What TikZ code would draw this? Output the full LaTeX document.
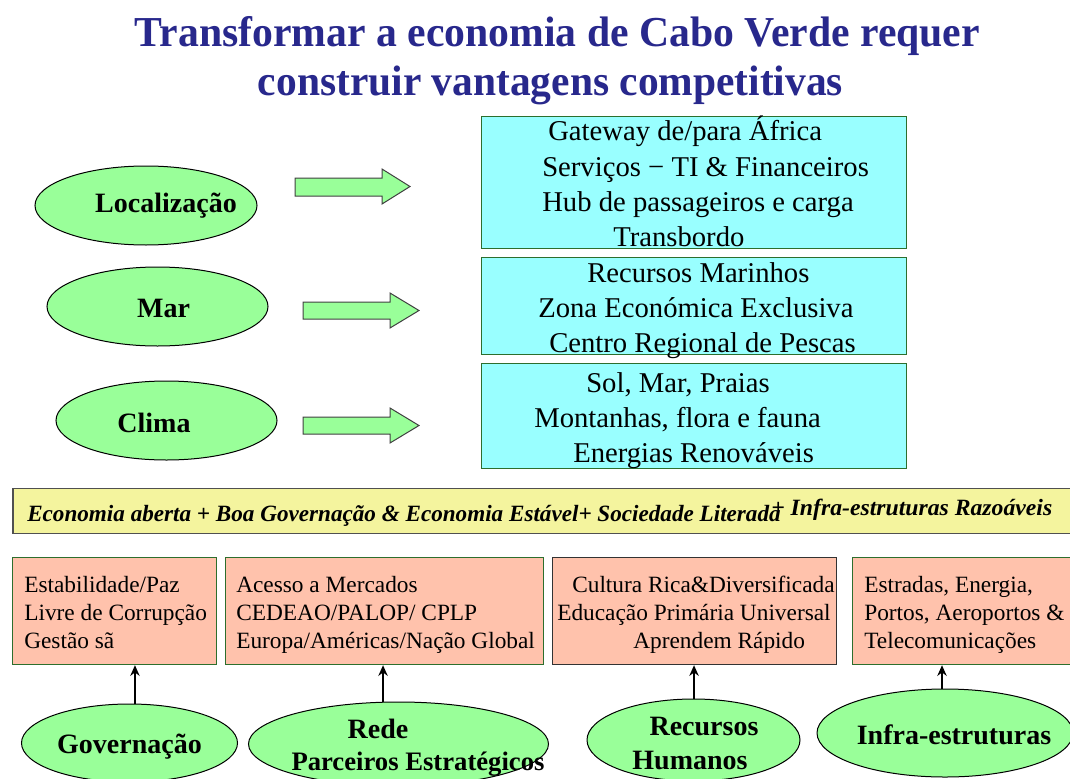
\documentclass[tikz,border=0pt]{standalone}
\usepackage{fontspec}
\setmainfont{Liberation Serif}
\usepackage{graphicx}
\usetikzlibrary{shapes.geometric,arrows.meta}
\definecolor{ellgreen}{RGB}{153,255,153}
\definecolor{boxcyan}{RGB}{153,255,255}
\definecolor{boxsalmon}{RGB}{255,194,172}
\definecolor{banneryellow}{RGB}{244,244,158}
\definecolor{titleblue}{RGB}{40,40,140}
\definecolor{bordergreen}{RGB}{45,110,45}
\definecolor{bannerborder}{RGB}{80,80,80}
\tikzset{
 ell/.style={ellipse, draw=black, line width=0.75pt, fill=ellgreen, inner sep=0pt},
 cyanbox/.style={rectangle, draw=bordergreen, line width=0.9pt, fill=boxcyan, anchor=north west, inner sep=0pt},
 salbox/.style={rectangle, draw=bordergreen, line width=0.9pt, fill=boxsalmon, anchor=north west, inner sep=0pt},
 bigtxt/.style={anchor=base west, inner sep=0pt, font=\fontsize{21.5}{26}\selectfont},
 smalltxt/.style={anchor=base west, inner sep=0pt, font=\fontsize{17.5}{20}\selectfont},
 elltxt/.style={anchor=base, inner sep=0pt, font=\bfseries\fontsize{21}{25}\selectfont},
 titletxt/.style={anchor=base, inner sep=0pt, text=titleblue, font=\bfseries\fontsize{32}{36}\selectfont},
 bantxt/.style={anchor=base west, inner sep=0pt, font=\bfseries\itshape\fontsize{17.5}{20}\selectfont},
 blockarrow/.style={fill=ellgreen, draw=black!75, line width=0.75pt},
 uparrow/.style={draw=black, line width=1.5pt, -{Stealth[length=8pt,width=7pt]}},
}
\begin{document}
\begin{tikzpicture}[x=0.75pt,y=-0.75pt]
\useasboundingbox (0,0) rectangle (1070,778);

% title
\node[titletxt] (t1) at (557.5,46) {\resizebox{633.75pt}{\height}{Transformar a economia de Cabo Verde requer}};
\node[titletxt] (t2) at (550.5,95) {\resizebox{438.75pt}{\height}{construir vantagens competitivas}};

% top ellipses
\node[ell, minimum width=166.5pt, minimum height=59.25pt] (loc) at (146,205.5) {};
\node[ell, minimum width=165.75pt, minimum height=59.25pt] (mar) at (157.5,306.5) {};
\node[ell, minimum width=165.75pt, minimum height=59.25pt] (cli) at (166.5,420.5) {};
\node[elltxt] (loct) at (166,212) {Localização};
\node[elltxt] (mart) at (163.5,317) {Mar};
\node[elltxt] (clit) at (154,432) {Clima};

% block arrows
\draw[blockarrow] (295,178) -- (382,178) -- (382,169) -- (410,186.5) -- (382,204) -- (382,196) -- (295,196) -- cycle;
\draw[blockarrow] (303,302) -- (390,302) -- (390,293) -- (419,310.5) -- (390,328) -- (390,319) -- (303,319) -- cycle;
\draw[blockarrow] (303,417) -- (390,417) -- (390,408) -- (419,425.5) -- (390,443) -- (390,434) -- (303,434) -- cycle;

% cyan boxes
\node[cyanbox, minimum width=318.75pt, minimum height=99pt] (b1) at (481,116) {};
\node[cyanbox, minimum width=318.75pt, minimum height=72.75pt] (b2) at (481,257) {};
\node[cyanbox, minimum width=318.75pt, minimum height=78.75pt] (b3) at (481,363) {};

\node[bigtxt] (b1a) at (548,140) {Gateway de/para África};
\node[bigtxt] (b1b) at (542,176.5) {Serviços − TI \& Financeiros};
\node[bigtxt] (b1c) at (542,211.5) {Hub de passageiros e carga};
\node[bigtxt] (b1d) at (613,246) {Transbordo};

\node[bigtxt] (b2a) at (587,282) {Recursos Marinhos};
\node[bigtxt] (b2b) at (538,317) {Zona Económica Exclusiva};
\node[bigtxt] (b2c) at (549,352) {Centro Regional de Pescas};

\node[bigtxt] (b3a) at (586,392.5) {Sol, Mar, Praias};
\node[bigtxt] (b3b) at (534,427.5) {Montanhas, flora e fauna};
\node[bigtxt] (b3c) at (573,462.5) {Energias Renováveis};

% banner
\node[rectangle, draw=bannerborder, line width=1.2pt, fill=banneryellow, anchor=north west, inner sep=0pt, minimum width=797.25pt, minimum height=33.75pt] (ban) at (12,487.5) {};
\node[bantxt] (ban1) at (27,521) {\resizebox{565pt}{\height}{Economia aberta + Boa Governação \& Economia Estável+ Sociedade Literada}};
\node[bantxt] (ban2) at (771,515.5) {\resizebox{210.75pt}{\height}{+ Infra-estruturas Razoáveis}};

% salmon boxes
\node[salbox, minimum width=153pt, minimum height=80.25pt] (s1) at (12,557) {};
\node[salbox, minimum width=238.5pt, minimum height=80.25pt] (s2) at (225,557) {};
\node[salbox, draw=black!80, minimum width=213pt, minimum height=80.25pt] (s3) at (552,557) {};
\node[salbox, minimum width=168pt, minimum height=80.25pt] (s4) at (852,557) {};

\node[smalltxt] (s1a) at (24,592) {Estabilidade/Paz};
\node[smalltxt] (s1b) at (24,620) {Livre de Corrupção};
\node[smalltxt] (s1c) at (24,648) {Gestão sã};

\node[smalltxt] (s2a) at (236,592) {Acesso a Mercados};
\node[smalltxt] (s2b) at (236,620) {CEDEAO/PALOP/ CPLP};
\node[smalltxt] (s2c) at (236,648) {Europa/Américas/Nação Global};

\node[smalltxt] (s3a) at (572,592) {Cultura Rica\&Diversificada};
\node[smalltxt] (s3b) at (557,620) {Educação Primária Universal};
\node[smalltxt] (s3c) at (633,648) {Aprendem Rápido};

\node[smalltxt] (s4a) at (864,592) {Estradas, Energia,};
\node[smalltxt] (s4b) at (864,620) {Portos, Aeroportos \&};
\node[smalltxt] (s4c) at (864,648) {Telecomunicações};

% bottom ellipses
\node[ell, minimum width=162pt, minimum height=58.5pt] (gov) at (129.5,743) {};
\node[ell, minimum width=225pt, minimum height=63pt] (rede) at (398.5,744) {};
\node[ell, minimum width=159.75pt, minimum height=61.5pt] (rh) at (693.5,740) {};
\node[ell, minimum width=192pt, minimum height=66pt] (inf) at (945,733) {};

\node[elltxt] (govt) at (129.5,753) {Governação};
\node[elltxt] (redet) at (378,738) {Rede};
\node[elltxt, font=\bfseries\fontsize{20}{24}\selectfont] (redet2) at (418,770) {Parceiros Estratégicos};
\node[elltxt] (rht) at (704,735) {Recursos};
\node[elltxt] (rht2) at (690,769) {Humanos};
\node[elltxt] (inft) at (954,744) {Infra-estruturas};

% up arrows
\draw[uparrow] ([xshift=4.1pt]gov.north) -- ([xshift=4.1pt]gov.north |- s1.south);
\draw[uparrow] ([xshift=-11.6pt]rede.north) -- ([xshift=-11.6pt]rede.north |- s2.south);
\draw[uparrow] ([xshift=0.4pt]rh.north) -- ([xshift=0.4pt]rh.north |- s3.south);
\draw[uparrow] ([xshift=-2.25pt]inf.north) -- ([xshift=-2.25pt]inf.north |- s4.south);
\end{tikzpicture}
\end{document}
